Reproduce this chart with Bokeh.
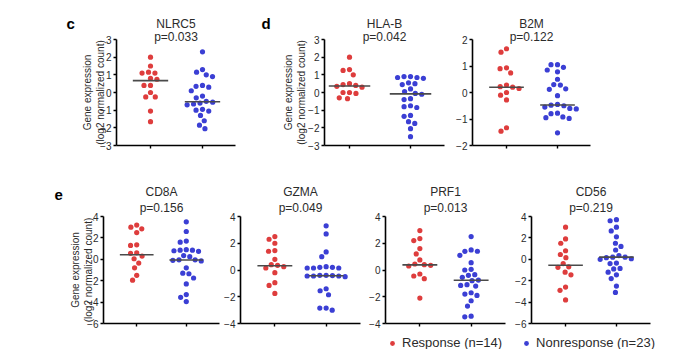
import numpy as np
from bokeh.plotting import figure
from bokeh.models import Range1d, FixedTicker, Title, Legend, LegendItem
from bokeh.layouts import column, row
from bokeh.embed import file_html
from bokeh.resources import INLINE

# ---------------- data ----------------
groups = ["Response (n=14)", "Nonresponse (n=23)"]
genes = ["NLRC5", "HLA-B", "B2M", "CD8A", "GZMA", "PRF1", "CD56"]
p_values = ["p=0.033", "p=0.042", "p=0.122", "p=0.156", "p=0.049", "p=0.013", "p=0.219"]
panel_letters = ["c", "d", "e"]
y_label = "Gene expression\n(log2 normalized count)"

nlrc5_resp = [2.0, 1.5, 1.15, 1.1, 1.1, 0.8, 0.75, 0.4, 0.4, 0.0, -0.25, -0.25, -1.05, -1.65]
nlrc5_non = [2.3, 1.3, 1.15, 1.0, 0.9, 0.4, 0.35, 0.3, 0.1, -0.2, -0.3, -0.5, -0.55, -0.6,
             -0.65, -0.7, -0.95, -1.0, -1.05, -1.3, -1.6, -1.85, -2.05]
nlrc5_lines = [0.67, -0.52]

hlab_resp = [2.0, 1.3, 1.25, 1.0, 0.5, 0.45, 0.4, 0.35, 0.3, 0.0, 0.0, -0.05, -0.3, -0.35]
hlab_non = [0.9, 0.9, 0.85, 0.85, 0.8, 0.55, 0.5, 0.45, 0.2, 0.05, -0.05, -0.1, -0.35, -0.4,
            -0.75, -0.8, -0.85, -1.3, -1.35, -1.65, -1.75, -2.05, -2.5]
hlab_lines = [0.37, -0.08]

b2m_resp = [1.65, 1.52, 0.93, 0.9, 0.74, 0.28, 0.22, 0.2, 0.15, 0.0, -0.1, -0.28, -1.33, -1.46]
b2m_non = [1.05, 1.05, 0.95, 0.85, 0.78, 0.5, 0.3, 0.28, 0.14, 0.12, -0.12, -0.45, -0.48, -0.5,
           -0.55, -0.6, -0.62, -0.78, -0.8, -0.92, -0.95, -0.98, -1.52]
b2m_lines = [0.2, -0.47]

cd8a_resp = [3.2, 3.0, 2.85, 2.5, 1.35, 1.3, 0.6, 0.55, 0.3, 0.05, -0.35, -0.8, -1.5, -1.95]
cd8a_non = [3.5, 2.6, 1.7, 1.6, 0.9, 0.85, 0.85, 0.8, 0.75, 0.35, 0.25, -0.05, -0.05, -0.1,
            -0.15, -0.8, -1.3, -1.35, -1.75, -2.3, -3.3, -3.55, -3.95]
cd8a_lines = [0.42, -0.06]

gzma_resp = [2.5, 2.3, 2.0, 1.45, 1.4, 0.8, 0.4, 0.35, 0.25, 0.15, -0.2, -0.95, -1.15, -1.75]
gzma_non = [3.3, 2.7, 1.35, 1.0, 0.25, 0.2, 0.2, 0.15, 0.15, 0.15, -0.4, -0.4, -0.42, -0.45,
            -0.45, -0.45, -0.5, -1.4, -1.55, -1.85, -2.85, -3.0, -2.85]
gzma_lines = [0.32, -0.43]

prf1_resp = [2.95, 2.35, 2.2, 1.6, 1.2, 0.75, 0.45, 0.4, 0.35, 0.3, -0.3, -0.45, -0.65, -2.1]
prf1_non = [2.5, 1.5, 1.4, 1.4, 1.1, 0.55, 0.05, 0.0, -0.35, -0.4, -0.55, -0.75, -0.8, -1.1,
            -1.15, -1.2, -1.7, -1.8, -1.9, -2.3, -2.7, -3.45, -3.5]
prf1_lines = [0.38, -0.77]

cd56_resp = [3.0, 1.9, 1.5, 0.8, 0.45, 0.15, -0.4, -0.7, -0.75, -1.2, -1.45, -2.6, -2.9, -3.8]
cd56_non = [3.7, 3.6, 3.0, 2.65, 2.1, 1.5, 1.2, 0.87, 0.35, 0.2, 0.2, 0.15, 0.05, 0.0, -0.4,
            -0.35, -0.85, -0.9, -1.2, -1.45, -1.8, -2.5, -3.1]
cd56_lines = [-0.56, 0.2]

y_limits = [(-3, 3), (-3, 3), (-2, 2), (-6, 4), (-4, 4), (-4, 4), (-6, 4)]
y_steps = [1, 1, 1, 2, 2, 2, 2]

# ---------------- style ----------------
RED = "#de3d3d"
BLUE = "#3b3fd4"
FONT = "Liberation Sans"
TXT = "#2b2b2b"


def swarm(vals, ppx, ppy, d=6.5):
    vals = np.asarray(vals, dtype=float)
    order = np.argsort(-vals, kind="stable")
    placed = []
    offs = np.zeros(len(vals))
    for i in order:
        y = vals[i] * ppy
        cands = [0.0]
        for (px, py) in placed:
            dy = abs(py - y)
            if dy < d:
                dx = np.sqrt(d * d - dy * dy)
                cands += [px - dx, px + dx]
        cands.sort(key=abs)
        chosen = cands[-1]
        for c in cands:
            if all((c - px) ** 2 + (y - py) ** 2 >= d * d - 1e-6 for px, py in placed):
                chosen = c
                break
        placed.append((chosen, y))
        offs[i] = chosen / ppx
    return offs


def letter_fig(text, width, height, border_top, offset, std):
    f = figure(width=width, height=height, output_backend="svg", toolbar_location=None,
               x_range=Range1d(0, 1), y_range=Range1d(0, 1),
               min_border_left=0, min_border_right=0, min_border_bottom=0,
               min_border_top=border_top, x_axis_location=None, y_axis_location=None)
    f.grid.visible = False
    f.outline_line_color = None
    f.add_layout(Title(text=text, align="left", offset=offset, text_font=FONT,
                       text_font_size="15px", text_font_style="bold",
                       text_color="black", standoff=std), "above")
    return f


def panel(idx, resp, non, lines, width, height, bl, br, bt, bb, xr, p_std, g_std,
          ylab=False, lab_std=-9):
    lo, hi = y_limits[idx]
    p = figure(width=width, height=height, output_backend="svg", toolbar_location=None,
               x_range=Range1d(*xr), y_range=Range1d(lo, hi),
               min_border_left=bl, min_border_right=br, min_border_top=bt,
               min_border_bottom=bb)
    p.grid.visible = False
    p.outline_line_color = None

    fw = width - bl - br
    fh = height - bt - bb
    ppx = fw / (xr[1] - xr[0])
    ppy = fh / (hi - lo)

    for k, (vals, col) in enumerate([(resp, RED), (non, BLUE)]):
        cx = k + 1
        xs = cx + swarm(vals, ppx, ppy)
        p.scatter(xs, vals, size=5.2, fill_color=col, line_color=None)
        p.segment(x0=[cx - 0.34], x1=[cx + 0.34], y0=[lines[k]], y1=[lines[k]],
                  line_color="#4a4a4a", line_width=1.6)

    for ax in (p.xaxis[0], p.yaxis[0]):
        ax.axis_line_color = "black"
        ax.axis_line_width = 1.6
        ax.major_tick_line_color = "black"
        ax.major_tick_line_width = 1.4
        ax.major_tick_in = 0
        ax.major_tick_out = 3
        ax.minor_tick_line_color = None
        ax.major_label_text_font = FONT
        ax.major_label_text_color = TXT
        ax.major_label_text_font_size = "10px"
        ax.major_label_standoff = 2
    p.xaxis.ticker = FixedTicker(ticks=[1, 2])
    p.xaxis.major_label_overrides = {1: "", 2: ""}
    p.xaxis.major_label_text_font_size = "0px"
    p.xaxis.major_label_standoff = 0
    p.yaxis.ticker = FixedTicker(ticks=list(range(lo, hi + 1, y_steps[idx])))
    if ylab:
        p.yaxis.axis_label = y_label
        p.yaxis.axis_label_text_font = FONT
        p.yaxis.axis_label_text_font_size = "10px"
        p.yaxis.axis_label_text_font_style = "normal"
        p.yaxis.axis_label_text_color = TXT
        p.yaxis.axis_label_standoff = lab_std

    p.add_layout(Title(text=p_values[idx], align="center", text_font=FONT,
                       text_font_size="12px", text_font_style="normal",
                       text_color=TXT, standoff=p_std), "above")
    p.add_layout(Title(text=genes[idx], align="center", text_font=FONT,
                       text_font_size="12px", text_font_style="normal",
                       text_color=TXT, standoff=g_std), "above")
    return p


XR = (0.33, 2.67)
TOP_H, BOT_H = 156, 173
# top row
lc = letter_fig(panel_letters[0], 76, TOP_H, 39, 66, 15)
fc = panel(0, nlrc5_resp, nlrc5_non, nlrc5_lines, 168, TOP_H, 40, 9, 39, 11,
           (0.346, 2.635), -9, 4, ylab=True, lab_std=-9)
ld = letter_fig(panel_letters[1], 28, TOP_H, 39, 17, 15)
fd = panel(1, hlab_resp, hlab_non, hlab_lines, 178, TOP_H, 52, 6, 39, 11,
           (0.59, 2.557), -9, 4, ylab=True, lab_std=-2)
fb = panel(2, b2m_resp, b2m_non, b2m_lines, 230, TOP_H, 22, 90, 39, 11,
           (0.333, 2.647), -9, 4)

# bottom row
le = letter_fig(panel_letters[2], 66, BOT_H, 60, 54, 34)
f1 = panel(3, cd8a_resp, cd8a_non, cd8a_lines, 155, BOT_H, 31, 2, 60, 6, XR, 4, -5,
           ylab=True, lab_std=-10)
f2 = panel(4, gzma_resp, gzma_non, gzma_lines, 145, BOT_H, 16, 6, 60, 6, XR, 4, -5)
f3 = panel(5, prf1_resp, prf1_non, prf1_lines, 146, BOT_H, 17, 7, 60, 6, XR, 4, -5)
f4 = panel(6, cd56_resp, cd56_non, cd56_lines, 168, BOT_H, 17, 30, 60, 6, XR, 4, -5)

# legend strip
fl = figure(width=680, height=20, output_backend="svg", toolbar_location=None,
            x_range=Range1d(0, 1), y_range=Range1d(0, 1), min_border=0,
            x_axis_location=None, y_axis_location=None)
fl.grid.visible = False
fl.outline_line_color = None
r1 = fl.scatter(x=[-5], y=[-5], size=6, fill_color=RED, line_color=None)
r2 = fl.scatter(x=[-5], y=[-5], size=6, fill_color=BLUE, line_color=None)
legend = Legend(items=[LegendItem(label=groups[0], renderers=[r1]),
                       LegendItem(label=groups[1], renderers=[r2])],
                orientation="horizontal", location=(385, -1), padding=0, margin=0,
                spacing=17, label_standoff=3, glyph_width=14, glyph_height=12,
                label_height=12, label_text_line_height=1.0,
                label_text_font=FONT, label_text_font_size="13px",
                label_text_color=TXT, border_line_color=None, background_fill_alpha=0)
fl.add_layout(legend)

layout = column(row(lc, fc, ld, fd, fb), row(le, f1, f2, f3, f4), fl)

open("out.html", "w").write(file_html(layout, INLINE))
